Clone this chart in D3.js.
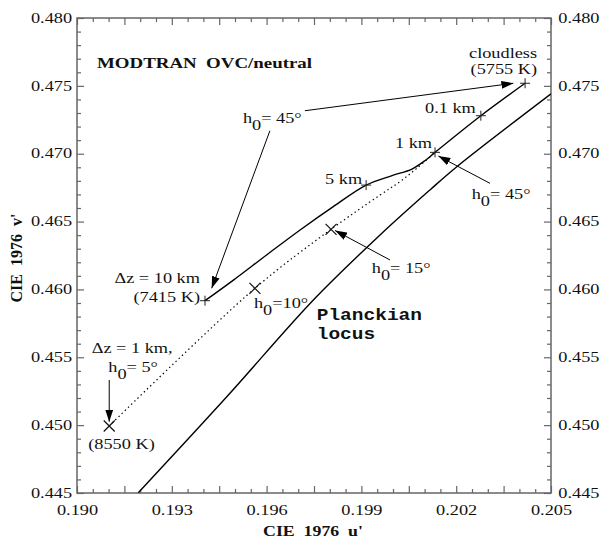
<!DOCTYPE html>
<html>
<head>
<meta charset="utf-8">
<script src="https://cdn.jsdelivr.net/npm/d3@7"></script>
<style>
  body { margin: 0; background: #fff; }
</style>
</head>
<body>
<div id="chart"></div>
<script>
// overcast sky, sun at 45 deg: cloud thickness 10 km, ..., 5 km, ..., 1 km, 0.1 km, cloudless
const cloudDepthU = [0.19405, 0.19495, 0.19600, 0.19706, 0.19811, 0.19915, 0.19997, 0.20060, 0.20104, 0.20133, 0.20278, 0.20418];
const cloudDepthV = [0.45917, 0.46069, 0.46254, 0.46438, 0.46610, 0.46769, 0.46839, 0.46887, 0.46954, 0.47010, 0.47280, 0.47519];
const plusIdx = [0, 5, 9, 10, 11];

// 1 km cloud, sun height 5, 10, 15 ... 45 deg (dotted)
const sunHeightU = [0.19102, 0.19563, 0.19804, 0.19959, 0.20022, 0.20075, 0.20133];
const sunHeightV = [0.44994, 0.46008, 0.46443, 0.46696, 0.46794, 0.46892, 0.47010];
const crossIdx = [0, 1, 2];

// Planckian locus
const planckU = [0.19194, 0.19474, 0.19748, 0.19959, 0.20117, 0.20202, 0.20500];
const planckV = [0.44502, 0.45209, 0.45922, 0.46401, 0.46733, 0.46904, 0.47441];

const xTicks = [0.190, 0.193, 0.196, 0.199, 0.202, 0.205];
const xMidTicks = [0.1915, 0.1945, 0.1975, 0.2005, 0.2035];
const yTicks = [0.445, 0.450, 0.455, 0.460, 0.465, 0.470, 0.475, 0.480];

const W = 602, H = 540;
const margin = {top: 18, right: 51, bottom: 47, left: 77};
const SX = 1.22; // the original type is a bit wide
const FS = 15;
const SERIF = "'Liberation Serif', 'Times New Roman', serif";
const MONO = "'Liberation Mono', 'Courier New', monospace";
const frameColor = "#666";

const svg = d3.select("#chart").append("svg")
	.attr("width", W)
	.attr("height", H)
	.attr("font-family", SERIF);

const x = d3.scaleLinear().domain([0.190, 0.205]).range([margin.left, W - margin.right]);
const y = d3.scaleLinear().domain([0.445, 0.480]).range([H - margin.bottom, margin.top]);

const fmt = d3.format(".3f");
const near = (a, list) => list.some(b => Math.abs(a - b) < 1e-7);
const xMinor = x.ticks(30).filter(d => !near(d, xTicks) && !near(d, xMidTicks));
const yMinor = y.ticks(35).filter(d => !near(d, yTicks));

function drawAxis(axis, tx, ty, labelled) {
	const g = svg.append("g")
		.attr("transform", "translate(" + tx + "," + ty + ")")
		.call(axis)
		.attr("font-family", SERIF);
	g.select(".domain").remove();
	g.selectAll(".tick line").attr("stroke", frameColor).attr("stroke-width", 1.2);
	if (labelled) {
		g.selectAll(".tick text")
			.attr("font-size", FS)
			.attr("font-family", SERIF)
			.attr("fill", "#111")
			.attr("transform", "scale(" + SX + ",1)");
	} else {
		g.selectAll(".tick text").remove();
	}
	return g;
}

const bottomY = H - margin.bottom, rightX = W - margin.right;

// bottom / top
drawAxis(d3.axisBottom(x).tickValues(xTicks).tickSize(-7).tickSizeOuter(0).tickPadding(11).tickFormat(fmt), 0, bottomY, true);
drawAxis(d3.axisBottom(x).tickValues(xMidTicks).tickSize(-7).tickSizeOuter(0), 0, bottomY, false);
drawAxis(d3.axisBottom(x).tickValues(xMinor).tickSize(-4).tickSizeOuter(0), 0, bottomY, false);
drawAxis(d3.axisTop(x).tickValues(xTicks.concat(xMidTicks)).tickSize(-7).tickSizeOuter(0), 0, margin.top, false);
drawAxis(d3.axisTop(x).tickValues(xMinor).tickSize(-4).tickSizeOuter(0), 0, margin.top, false);

// left / right
drawAxis(d3.axisLeft(y).tickValues(yTicks).tickSize(-7).tickSizeOuter(0).tickPadding(4).tickFormat(fmt), margin.left, 0, true)
	.selectAll(".tick text").attr("dy", "0.28em");
drawAxis(d3.axisLeft(y).tickValues(yMinor).tickSize(-4).tickSizeOuter(0), margin.left, 0, false);
drawAxis(d3.axisRight(y).tickValues(yTicks).tickSize(-7).tickSizeOuter(0).tickPadding(6).tickFormat(fmt), rightX, 0, true)
	.selectAll(".tick text").attr("dy", "0.28em");
drawAxis(d3.axisRight(y).tickValues(yMinor).tickSize(-4).tickSizeOuter(0), rightX, 0, false);

// frame
svg.append("rect")
	.attr("x", margin.left).attr("y", margin.top)
	.attr("width", rightX - margin.left).attr("height", bottomY - margin.top)
	.attr("fill", "none").attr("stroke", frameColor).attr("stroke-width", 1.5);

svg.append("clipPath").attr("id", "plot")
	.append("rect")
	.attr("x", margin.left).attr("y", margin.top)
	.attr("width", rightX - margin.left).attr("height", bottomY - margin.top);

const line = d3.line()
	.x(d => x(d[0]))
	.y(d => y(d[1]))
	.curve(d3.curveCatmullRom.alpha(0.5));

const cloudPts = d3.zip(cloudDepthU, cloudDepthV);
const sunPts = d3.zip(sunHeightU, sunHeightV);
const planckPts = d3.zip(planckU, planckV);

const curves = svg.append("g").attr("clip-path", "url(#plot)").attr("fill", "none");
curves.append("path").attr("d", line(planckPts)).attr("stroke", "#000").attr("stroke-width", 1.4);
curves.append("path").attr("d", line(sunPts)).attr("stroke", "#000").attr("stroke-width", 1.2)
	.attr("stroke-dasharray", "1.4,3");
curves.append("path").attr("d", line(cloudPts)).attr("stroke", "#000").attr("stroke-width", 1.4);

// markers
svg.append("g").selectAll("path")
	.data(plusIdx.map(i => cloudPts[i]))
	.join("path")
	.attr("transform", d => "translate(" + x(d[0]) + "," + y(d[1]) + ")")
	.attr("d", "M-5,0H5M0,-5V5")
	.attr("stroke", "#222").attr("stroke-width", 1);

svg.append("g").selectAll("path")
	.data(crossIdx.map(i => sunPts[i]))
	.join("path")
	.attr("transform", d => "translate(" + x(d[0]) + "," + y(d[1]) + ")")
	.attr("d", "M-5.5,-5.5L5.5,5.5M-5.5,5.5L5.5,-5.5")
	.attr("stroke", "#111").attr("stroke-width", 1.2);

// annotations
svg.append("defs").append("marker")
	.attr("id", "ah")
	.attr("viewBox", "0 0 12 8")
	.attr("refX", 12).attr("refY", 4)
	.attr("markerWidth", 12).attr("markerHeight", 8)
	.attr("markerUnits", "userSpaceOnUse")
	.attr("orient", "auto")
	.append("path").attr("d", "M0,0L12,4L0,8Z").attr("fill", "#000");

function px(p, dx, dy) {
	return [x(p[0]) + dx, y(p[1]) + dy];
}

// parts: strings, or {sub: "0"}
function label(pos, parts, opts) {
	opts = opts || {};
	const t = svg.append("text")
		.attr("transform", "translate(" + pos[0] + "," + pos[1] + ") scale(" + (opts.sx || SX) + ",1)")
		.attr("text-anchor", opts.anchor || "start")
		.attr("font-size", opts.size || FS)
		.attr("font-family", opts.mono ? MONO : SERIF)
		.attr("fill", "#111")
		.style("white-space", "pre");
	if (opts.bold) t.attr("font-weight", "bold");
	let shifted = false;
	parts.forEach(p => {
		if (typeof p === "string") {
			t.append("tspan").attr("dy", shifted ? "-0.47em" : null).text(p);
			shifted = false;
		} else {
			t.append("tspan").attr("dy", "0.47em").text(p.sub);
			shifted = true;
		}
	});
	return t;
}

function arrow(a, b) {
	svg.append("line")
		.attr("x1", a[0]).attr("y1", a[1])
		.attr("x2", b[0]).attr("y2", b[1])
		.attr("stroke", "#000").attr("stroke-width", 1)
		.attr("marker-end", "url(#ah)");
}

const p10km = cloudPts[0], p5km = cloudPts[5], p1km = cloudPts[9], p01km = cloudPts[10], pClear = cloudPts[11];
const h5 = sunPts[0], h10 = sunPts[1], h15 = sunPts[2];

label([97, 68.3], ["MODTRAN  OVC/neutral"], {bold: true, size: 15.5});

label(px(pClear, 12, -25), ["cloudless"], {anchor: "end"});
label(px(pClear, 12, -8.8), ["(5755 K)"], {anchor: "end"});
label(px(p01km, -5, -3), ["0.1 km"], {anchor: "end"});
label(px(p1km, -3, -4), ["1 km"], {anchor: "end"});
label(px(p5km, -4, -1), ["5 km"], {anchor: "end"});
label(px(p10km, -5, -17.4), ["\u0394z = 10 km"], {anchor: "end"});
label(px(p10km, -5, 1.3), ["(7415 K)"], {anchor: "end"});

// h0 = 45 deg, pointing at the cloudless and the 10 km points
const h45Anchor = [0.19525, 0.47226];
const h45 = px(h45Anchor, 0, 0);
label(h45, ["h", {sub: "0"}, "= 45\u00b0"]);
arrow([h45[0] + 62, h45[1] - 12.3], px(pClear, -11.7, 0));
arrow([h45[0] + 27, h45[1] + 7.7], px(p10km, 6.7, -12.4));

label(px(p1km, 36.7, 46.7), ["h", {sub: "0"}, "= 45\u00b0"]);
arrow(px(p1km, 55, 31), px(p1km, 3.3, 3.7));

label(px(h15, 40.7, 44), ["h", {sub: "0"}, "= 15\u00b0"]);
arrow(px(h15, 59, 30.7), px(h15, 4, 1.2));

label(px(h10, -1, 20), ["h", {sub: "0"}, "=10\u00b0"]);

label(px(h5, -17.6, -72.7), ["\u0394z = 1 km,"]);
label(px(h5, -1, -53.7), ["h", {sub: "0"}, "= 5\u00b0"]);
arrow(px(h5, 0, -46), px(h5, 0, -4.3));
label(px(h5, -21, 23), ["(8550 K)"]);

label([316.7, 320], ["Planckian"], {bold: true, size: 16, mono: true});
label([316.7, 339], ["locus"], {bold: true, size: 16, mono: true});

// axis titles
label([313, 535.5], ["CIE  1976  u'"], {anchor: "middle", bold: true, size: 15.5, sx: 1.15});
svg.append("text")
	.attr("transform", "translate(21.5,258) rotate(-90)")
	.attr("text-anchor", "middle")
	.attr("font-size", 16)
	.attr("font-weight", "bold")
	.attr("font-family", SERIF)
	.attr("fill", "#111")
	.style("white-space", "pre")
	.text("CIE  1976  v'");
</script>
</body>
</html>
